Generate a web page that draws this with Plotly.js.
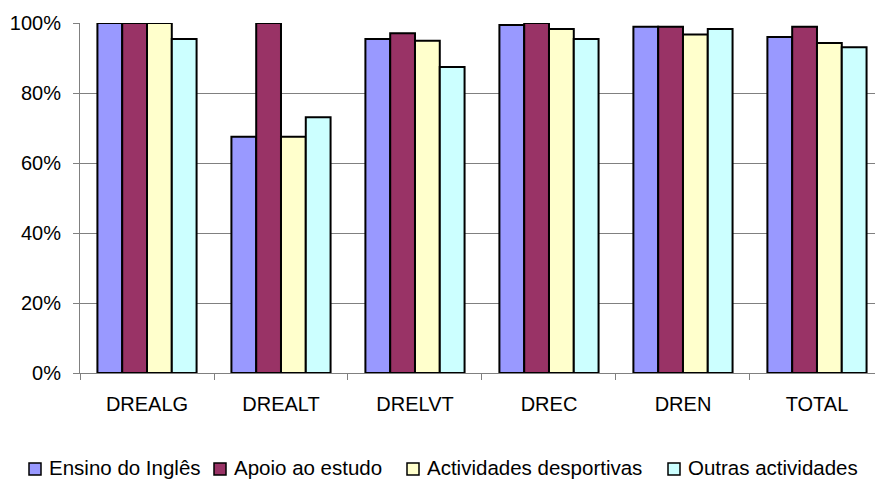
<!DOCTYPE html>
<html>
<head>
<meta charset="utf-8">
<script src="https://cdn.plot.ly/plotly-3.0.1.min.js"></script>
<style>html,body{margin:0;padding:0;background:#fff;}#chart{width:875px;height:479px;}</style>
</head>
<body>
<div id="chart"></div>
<script>
const categories = ["DREALG", "DREALT", "DRELVT", "DREC", "DREN", "TOTAL"];
const seriesNames = ["Ensino do Inglês", "Apoio ao estudo", "Actividades desportivas", "Outras actividades"];
const ensinoIngles = [1.00, 0.675, 0.954, 0.994, 0.989, 0.960];
const apoioEstudo = [1.00, 1.00, 0.971, 1.00, 0.989, 0.989];
const actDesportivas = [1.00, 0.675, 0.949, 0.983, 0.967, 0.943];
const outrasAct = [0.954, 0.731, 0.874, 0.954, 0.983, 0.931];
const seriesColors = ["#9999FF", "#993366", "#FFFFCC", "#CCFFFF"];

const values = [ensinoIngles, apoioEstudo, actDesportivas, outrasAct];
const traces = values.map((v, i) => ({
  type: "bar",
  name: seriesNames[i],
  x: categories,
  y: v,
  marker: { color: seriesColors[i], line: { color: "#000000", width: 2 } },
  hoverinfo: "x+y+name"
}));

// plot-area geometry (pixels)
const M = { l: 80, r: 0, t: 23, b: 106 };
const W = 875, H = 479;
const pw = W - M.l - M.r, ph = H - M.t - M.b;
const px2x = p => (p - M.l) / pw;
const py2y = p => (H - M.b - p) / ph;

// custom legend (one row, like the original)
const legendSquareLeft = [29, 214, 407, 668];
const sq = 12, legendCy = 467;
const shapes = [], annotations = [];
seriesNames.forEach((name, i) => {
  const x0 = legendSquareLeft[i];
  shapes.push({
    type: "rect", xref: "paper", yref: "paper",
    x0: px2x(x0), x1: px2x(x0 + sq),
    y0: py2y(legendCy + 2 + sq / 2), y1: py2y(legendCy + 2 - sq / 2),
    fillcolor: seriesColors[i], line: { color: "#000000", width: 1.5 }
  });
  annotations.push({
    xref: "paper", yref: "paper",
    x: px2x(x0 + sq + 7), y: py2y(legendCy),
    xanchor: "left", yanchor: "middle",
    text: name, showarrow: false, borderpad: 0,
    font: { size: 20.5, color: "#000000" }
  });
});

const layout = {
  width: W,
  height: H,
  margin: M,
  paper_bgcolor: "#ffffff",
  plot_bgcolor: "#ffffff",
  font: { family: "Liberation Sans, Arial, sans-serif", size: 20, color: "#000000" },
  barmode: "group",
  bargap: 0.26,
  bargroupgap: 0,
  showlegend: false,
  shapes: shapes,
  annotations: annotations,
  xaxis: {
    type: "category",
    range: [-0.5, 5.433],
    showgrid: false,
    showline: true,
    linecolor: "#808080",
    linewidth: 1,
    ticks: "outside",
    tickson: "boundaries",
    ticklen: 6,
    tickcolor: "#808080",
    tickfont: { size: 20 },
    ticklabelstandoff: 13,
    automargin: false,
    fixedrange: true
  },
  yaxis: {
    range: [0, 1],
    dtick: 0.2,
    tickformat: ".0%",
    showgrid: true,
    gridcolor: "#808080",
    gridwidth: 1,
    showline: true,
    linecolor: "#808080",
    linewidth: 1,
    ticks: "outside",
    ticklen: 6,
    tickcolor: "#808080",
    tickfont: { size: 20 },
    ticklabelstandoff: 8,
    zeroline: false,
    automargin: false,
    fixedrange: true
  }
};

Plotly.newPlot("chart", traces, layout, { displayModeBar: false });
</script>
</body>
</html>
